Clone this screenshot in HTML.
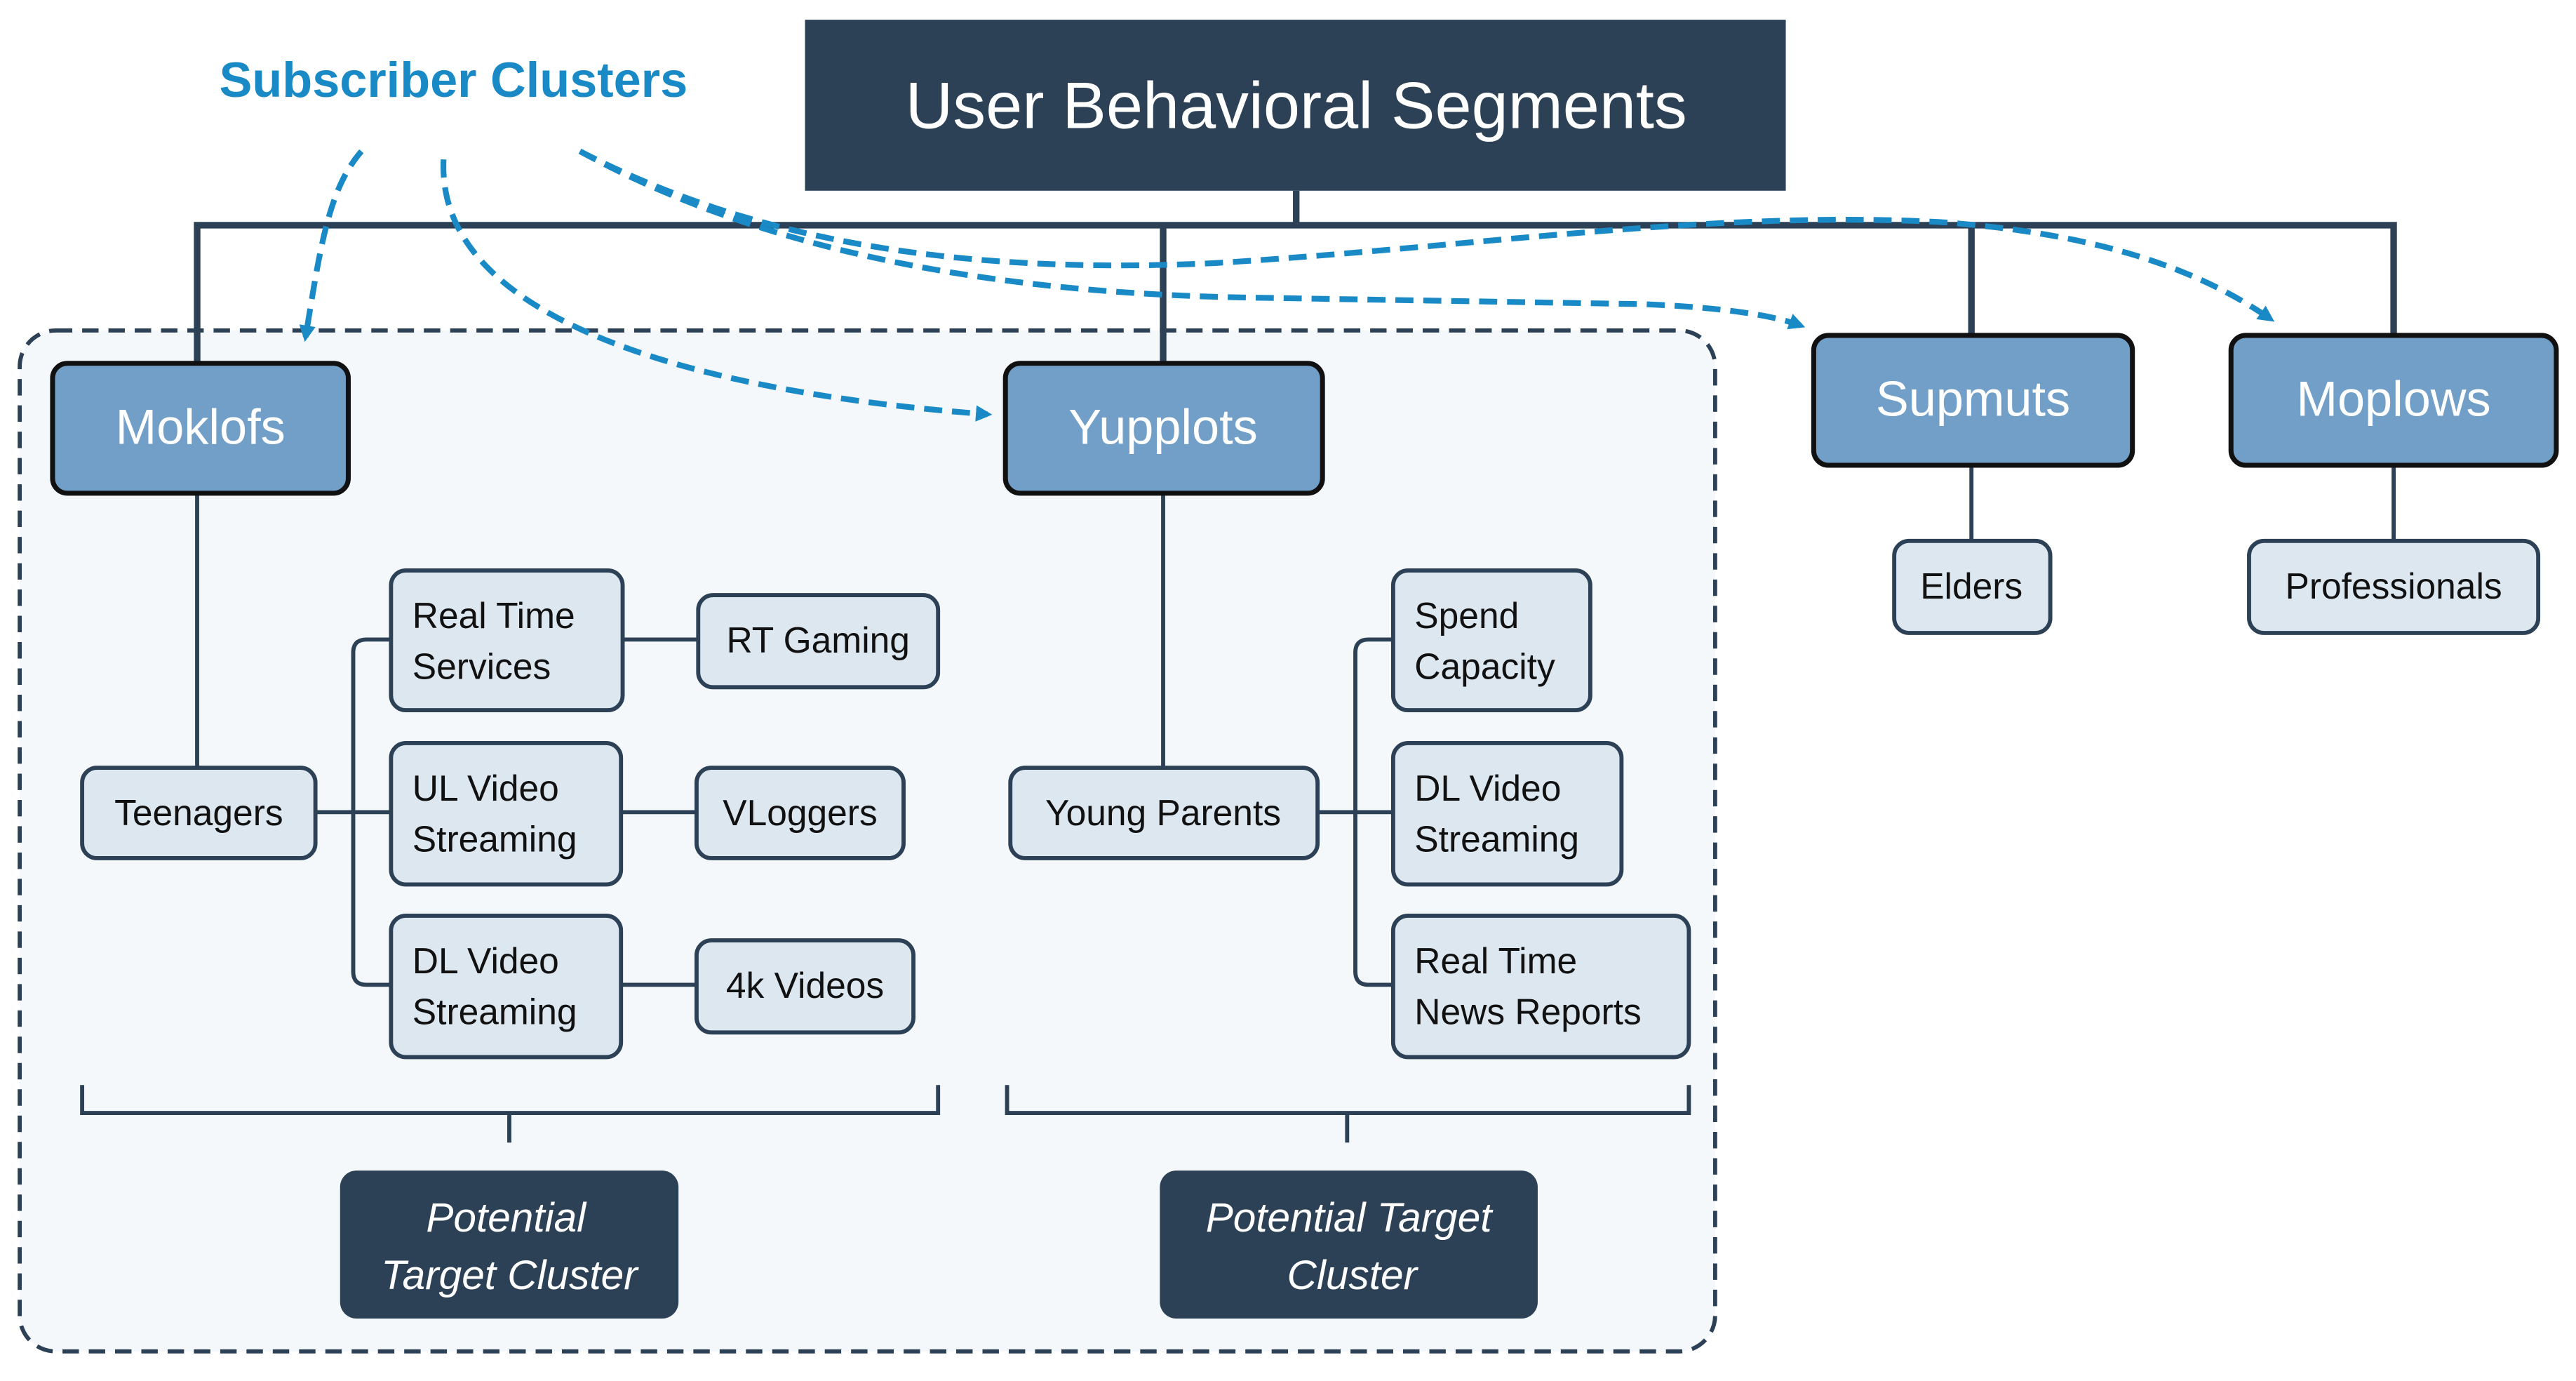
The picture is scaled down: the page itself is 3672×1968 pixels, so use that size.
<!DOCTYPE html>
<html><head><meta charset="utf-8"><style>
html,body{margin:0;padding:0;background:#fff;width:3672px;height:1968px;overflow:hidden}
svg{display:block}
text{font-family:"Liberation Sans",sans-serif}
</style></head><body>
<svg width="3672" height="1968" viewBox="0 0 1568 840" preserveAspectRatio="none" xmlns="http://www.w3.org/2000/svg">
<defs>
<marker id="ah" markerWidth="10" markerHeight="10" refX="7" refY="5" orient="auto" markerUnits="userSpaceOnUse" viewBox="0 0 10 10">
<path d="M0,0 L10,5 L0,10 z" fill="#1a8ac6"/></marker>
</defs>
<rect x="0" y="0" width="1568" height="840" fill="#fff"/>
<!-- container -->
<rect x="12" y="201" width="1032" height="621" rx="22" fill="#f5f8fb" stroke="#2d4156" stroke-width="2.5" stroke-dasharray="10,6"/>
<!-- tree bus -->
<g stroke="#2d4156" stroke-width="4" fill="none">
<line x1="789" y1="116" x2="789" y2="137"/>
<polyline points="120,221 120,137 1457,137 1457,204"/>
<line x1="708" y1="137" x2="708" y2="221"/>
<line x1="1200" y1="137" x2="1200" y2="204"/>
</g>
<g stroke="#2d4156" stroke-width="2.5" fill="none">
<line x1="1200" y1="283" x2="1200" y2="329"/>
<line x1="1457" y1="283" x2="1457" y2="329"/>
<line x1="120" y1="300" x2="120" y2="467"/>
<line x1="708" y1="300" x2="708" y2="467"/>
<line x1="192" y1="494" x2="238" y2="494"/>
<path d="M238,389 L223,389 Q215,389 215,397 L215,591 Q215,599 223,599 L238,599"/>
<line x1="379" y1="389" x2="425" y2="389"/>
<line x1="378" y1="494" x2="424" y2="494"/>
<line x1="378" y1="599" x2="424" y2="599"/>
<line x1="802" y1="494" x2="848" y2="494"/>
<path d="M848,389 L833,389 Q825,389 825,397 L825,591 Q825,599 833,599 L848,599"/>
<polyline points="50,660 50,677 571,677 571,660"/>
<line x1="310" y1="677" x2="310" y2="695"/>
<polyline points="613,660 613,677 1028,677 1028,660"/>
<line x1="820" y1="677" x2="820" y2="695"/>
</g>
<!-- title -->
<rect x="490" y="12" width="597" height="104" fill="#2d4156"/>
<text x="789" y="78" font-size="40" fill="#fff" text-anchor="middle">User Behavioral Segments</text>
<text x="276" y="59" font-size="30" font-weight="bold" fill="#1a8ac6" text-anchor="middle">Subscriber Clusters</text>
<!-- main nodes -->
<g fill="#729fc8" stroke="#111" stroke-width="3">
<rect x="32" y="221" width="180" height="79" rx="9"/>
<rect x="612" y="221" width="193" height="79" rx="9"/>
<rect x="1104" y="204" width="194" height="79" rx="9"/>
<rect x="1358" y="204" width="198" height="79" rx="9"/>
</g>
<g font-size="30" fill="#fff" text-anchor="middle">
<text x="122" y="270">Moklofs</text>
<text x="708" y="270">Yupplots</text>
<text x="1201" y="253">Supmuts</text>
<text x="1457" y="253">Moplows</text>
</g>
<!-- small nodes -->
<g fill="#dde7f0" stroke="#2d4156" stroke-width="2.5">
<rect x="1153" y="329" width="95" height="56" rx="9"/>
<rect x="1369" y="329" width="176" height="56" rx="9"/>
<rect x="50" y="467" width="142" height="55" rx="9"/>
<rect x="238" y="347" width="141" height="85" rx="9"/>
<rect x="238" y="452" width="140" height="86" rx="9"/>
<rect x="238" y="557" width="140" height="86" rx="9"/>
<rect x="425" y="362" width="146" height="56" rx="9"/>
<rect x="424" y="467" width="126" height="55" rx="9"/>
<rect x="424" y="572" width="132" height="56" rx="9"/>
<rect x="615" y="467" width="187" height="55" rx="9"/>
<rect x="848" y="347" width="120" height="85" rx="9"/>
<rect x="848" y="452" width="139" height="86" rx="9"/>
<rect x="848" y="557" width="180" height="86" rx="9"/>
</g>
<g font-size="22" fill="#111">
<g text-anchor="middle">
<text x="1200" y="364">Elders</text>
<text x="1457" y="364">Professionals</text>
<text x="121" y="502">Teenagers</text>
<text x="498" y="397">RT Gaming</text>
<text x="487" y="502">VLoggers</text>
<text x="490" y="607">4k Videos</text>
<text x="708" y="502">Young Parents</text>
</g>
<text x="251" y="382">Real Time</text><text x="251" y="413">Services</text>
<text x="251" y="487">UL Video</text><text x="251" y="518">Streaming</text>
<text x="251" y="592">DL Video</text><text x="251" y="623">Streaming</text>
<text x="861" y="382">Spend</text><text x="861" y="413">Capacity</text>
<text x="861" y="487">DL Video</text><text x="861" y="518">Streaming</text>
<text x="861" y="592">Real Time</text><text x="861" y="623">News Reports</text>
</g>
<!-- target clusters -->
<rect x="207" y="712" width="206" height="90" rx="10" fill="#2d4156"/>
<rect x="706" y="712" width="230" height="90" rx="10" fill="#2d4156"/>
<g font-size="25" fill="#fff" font-style="italic" text-anchor="middle">
<text x="308" y="749">Potential</text><text x="310" y="784">Target Cluster</text>
<text x="821" y="749">Potential Target</text><text x="823" y="784">Cluster</text>
</g>
<!-- dashed arrows -->
<g stroke="#1a8ac6" stroke-width="3.5" fill="none" stroke-dasharray="11,6">
<path d="M220,92 C200,115 195,150 186,205" marker-end="url(#ah)"/>
<path d="M270,97 C265,200 440,240 601,252" marker-end="url(#ah)"/>
<path d="M353,92 C450,145 580,178 760,181 L1000,185 C1050,187 1080,192 1096,198" marker-end="url(#ah)"/>
<path d="M353,92 C450,142 570,168 740,160 C900,150 1040,128 1180,135 C1280,142 1340,165 1382,194" marker-end="url(#ah)"/>
</g>
</svg>
</body></html>
